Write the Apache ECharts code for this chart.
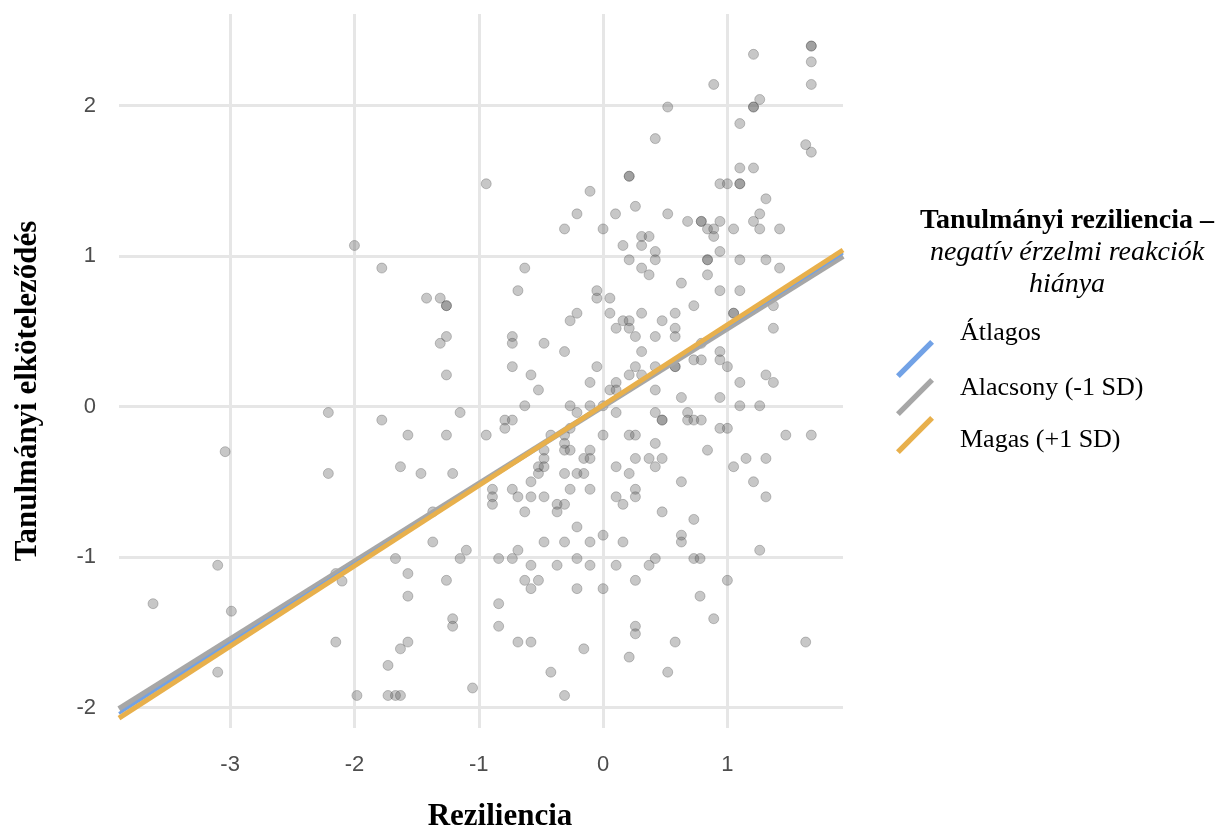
<!DOCTYPE html>
<html>
  <head>
    <meta charset="utf-8" />
    <title>Reziliencia</title>
    <script src="https://cdn.jsdelivr.net/npm/echarts@6/dist/echarts.min.js"></script>
  </head>
  <body style="margin:0;background:#fff">
    <div id="chart" style="width: 1220px; height: 831px"></div>
    <script type="text/javascript">
      // pontok: [reziliencia, elköteleződés]
      var points = [
        [-2.0,1.07],[-0.94,1.48],[-0.105,1.43],[-0.21,1.28],[-0.31,1.18],[0.0,1.18],
        [1.675,2.395],[1.675,2.395],[1.21,2.34],[1.675,2.29],[1.675,2.14],[0.89,2.14],[0.52,1.99],
        [1.26,2.04],[1.21,1.99],[1.21,1.99],[1.10,1.88],[0.42,1.78],[1.63,1.74],[1.675,1.69],
        [1.10,1.585],[1.21,1.585],[0.21,1.53],[0.21,1.53],[0.94,1.48],[1.0,1.48],[1.10,1.48],
        [1.10,1.48],[1.31,1.38],[0.10,1.28],[0.26,1.33],[0.52,1.28],[1.26,1.28],[1.21,1.23],
        [0.68,1.23],[0.79,1.23],[0.79,1.23],[0.94,1.23],[0.84,1.18],[0.89,1.18],[1.05,1.18],
        [1.26,1.18],[1.42,1.18],[0.31,1.13],[0.37,1.13],[0.89,1.13],[0.16,1.07],[0.31,1.07],
        [0.42,1.03],[0.94,1.03],
        [0.42,0.975],[0.21,0.975],[0.84,0.975],[0.84,0.975],[1.10,0.975],[1.31,0.975],[1.42,0.92],
        [0.31,0.92],[0.37,0.875],[0.84,0.875],[0.63,0.82],[0.055,0.72],[0.94,0.77],[1.10,0.77],
        [0.055,0.62],[0.31,0.62],[0.58,0.62],[0.73,0.67],[1.05,0.62],[1.05,0.62],[1.37,0.67],
        [0.16,0.57],[0.21,0.57],[0.475,0.57],[0.105,0.52],[0.21,0.52],[0.58,0.52],[1.37,0.52],
        [0.26,0.465],[0.42,0.465],[0.58,0.465],[0.31,0.365],[0.79,0.42],[0.73,0.31],[0.79,0.31],
        [0.94,0.365],[0.94,0.31],[0.26,0.265],[0.42,0.265],[0.58,0.265],[0.58,0.265],[1.0,0.265],
        [0.21,0.21],[0.31,0.21],[1.31,0.21],[0.105,0.16],[1.10,0.16],[1.37,0.16],[0.055,0.11],
        [0.105,0.11],[0.42,0.11],[0.63,0.06],[0.94,0.06],[1.10,0.005],[1.26,0.005],[0.105,-0.04],
        [0.42,-0.04],[0.68,-0.04],[0.475,-0.09],[0.475,-0.09],[0.68,-0.09],[0.73,-0.09],[0.79,-0.09],
        [0.94,-0.145],[1.0,-0.145],[0.0,-0.19],[0.21,-0.19],[0.26,-0.19],[1.47,-0.19],[1.675,-0.19],
        [0.42,-0.245],[0.84,-0.29],[0.26,-0.345],[0.37,-0.345],[0.475,-0.345],[1.15,-0.345],
        [1.31,-0.345],[0.105,-0.40],[0.42,-0.40],[1.05,-0.40],[0.21,-0.445],[0.63,-0.50],
        [1.21,-0.50],[0.26,-0.55],
        [0.105,-0.60],[0.26,-0.60],[0.16,-0.65],[0.475,-0.70],[0.73,-0.75],[0.0,-0.855],
        [0.63,-0.855],[0.63,-0.90],[0.16,-0.90],[0.42,-1.01],[0.73,-1.01],[0.78,-1.01],
        [0.105,-1.055],[0.37,-1.055],[0.26,-1.155],[0.0,-1.21],[1.0,-1.155],[0.78,-1.26],
        [0.89,-1.41],[0.26,-1.46],[0.26,-1.51],[0.58,-1.565],[1.63,-1.565],[0.21,-1.665],
        [0.52,-1.765],[1.31,-0.60],[1.26,-0.955],
        [-1.78,0.92],[-0.63,0.92],[-1.42,0.72],[-1.31,0.72],[-1.26,0.67],[-1.26,0.67],
        [-0.685,0.77],[-0.05,0.77],[-0.05,0.72],[-0.21,0.62],[-0.265,0.57],[-1.26,0.465],
        [-1.31,0.42],[-0.73,0.465],[-0.73,0.42],[-0.475,0.42],[-0.31,0.365],[-0.73,0.265],
        [-0.05,0.265],[-1.26,0.21],[-0.58,0.21],[-0.105,0.16],[-0.52,0.11],[-0.63,0.005],
        [-0.265,0.005],[-0.105,0.005],[0.0,0.005],[-0.21,-0.04],[-1.15,-0.04],[-1.78,-0.09],
        [-0.79,-0.09],[-0.73,-0.09],[-0.79,-0.145],[-0.265,-0.145],[-1.57,-0.19],[-1.26,-0.19],
        [-0.94,-0.19],[-0.42,-0.19],[-0.31,-0.19],[-0.31,-0.245],[-0.475,-0.29],[-0.31,-0.29],
        [-0.265,-0.29],[-0.105,-0.29],[-0.475,-0.345],[-0.155,-0.345],[-0.105,-0.345],
        [-0.52,-0.40],[-0.475,-0.40],[-1.63,-0.40],[-1.465,-0.445],[-1.21,-0.445],[-0.52,-0.445],
        [-0.31,-0.445],[-0.21,-0.445],[-0.155,-0.445],[-0.58,-0.50],[-0.89,-0.55],[-0.73,-0.55],
        [-0.265,-0.55],[-0.105,-0.55],
        [-0.89,-0.60],[-0.89,-0.65],[-0.685,-0.60],[-0.58,-0.60],[-0.475,-0.60],[-0.37,-0.65],
        [-0.31,-0.65],[-0.63,-0.70],[-0.37,-0.70],[-0.21,-0.80],[-1.37,-0.70],[-1.37,-0.90],
        [-0.475,-0.90],[-0.31,-0.90],[-0.105,-0.90],[-1.10,-0.955],[-1.15,-1.01],[-1.67,-1.01],
        [-0.84,-1.01],[-0.73,-1.01],[-0.685,-0.955],[-0.21,-1.01],[-0.58,-1.055],[-0.37,-1.055],
        [-0.105,-1.055],[-1.57,-1.11],[-1.26,-1.155],[-0.63,-1.155],[-0.52,-1.155],[-0.58,-1.21],
        [-0.21,-1.21],[-1.57,-1.26],[-0.84,-1.31],[-1.21,-1.41],[-1.21,-1.46],[-0.84,-1.46],
        [-1.57,-1.565],[-0.685,-1.565],[-0.58,-1.565],[-0.155,-1.61],[-1.63,-1.61],[-1.73,-1.72],
        [-0.42,-1.765],[-1.73,-1.92],[-1.67,-1.92],[-1.63,-1.92],[-1.98,-1.92],[-1.05,-1.87],
        [-0.31,-1.92],
        [-3.10,-1.055],[-3.62,-1.31],[-2.99,-1.36],[-3.10,-1.765],[-2.15,-1.11],[-2.10,-1.16],
        [-2.15,-1.565],[-2.21,-0.04],[-3.04,-0.30],[-2.21,-0.445]
      ];

      // regressziós egyenesek végpontjai
      var lineX = [-3.894, 1.93];
      var avgY = [-2.04, 1.02];
      var lowY = [-2.01, 1.0];
      var highY = [-2.07, 1.04];

      var seriesNames = ["Átlagos", "Alacsony (-1 SD)", "Magas (+1 SD)"];
      var seriesColors = ["#72a2e6", "#a7a7a7", "#e8b04c"];
      var legendTitle = ["Tanulmányi reziliencia –", "negatív érzelmi reakciók", "hiánya"];

      function pairs(ys) {
        return lineX.map(function (x, i) { return [x, ys[i]]; });
      }

      var icon = "path://M0,36 L36,0 L40,4 L4,40 Z";
      var tickFont = { color: "#4d4d4d", fontSize: 22, fontFamily: "Liberation Sans" };

      var chart = echarts.init(document.getElementById("chart"));
      var option = {
        animation: false,
        grid: { left: 119, right: 377, top: 14, bottom: 103 },
        xAxis: {
          type: "value", min: -3.894, max: 1.93, minInterval: 1, maxInterval: 1,
          axisLine: { show: false }, axisTick: { show: false },
          axisLabel: Object.assign({ margin: 26, showMinLabel: false, showMaxLabel: false }, tickFont),
          splitLine: { show: true, showMinLine: false, showMaxLine: false, lineStyle: { color: "#e6e6e6", width: 3 } }
        },
        yAxis: {
          type: "value", min: -2.136, max: 2.608, minInterval: 1, maxInterval: 1,
          axisLine: { show: false }, axisTick: { show: false },
          axisLabel: Object.assign({ margin: 23, showMinLabel: false, showMaxLabel: false }, tickFont),
          splitLine: { show: true, showMinLine: false, showMaxLine: false, lineStyle: { color: "#e6e6e6", width: 3 } }
        },
        legend: {
          orient: "vertical", left: 890, top: 335, itemWidth: 40, itemHeight: 38, itemGap: 0,
          selectedMode: false, formatter: function () { return ""; },
          data: seriesNames.map(function (n) { return { name: n, icon: icon }; })
        },
        series: [
          {
            type: "scatter", data: points, symbolSize: 10, silent: true,
            itemStyle: { color: "rgba(80,80,80,0.4)", borderColor: "rgba(60,60,60,0.35)", borderWidth: 1 }
          },
          { name: seriesNames[1], type: "line", data: pairs(lowY), symbol: "none", silent: true,
            lineStyle: { color: seriesColors[1], width: 6 }, itemStyle: { color: seriesColors[1] } },
          { name: seriesNames[0], type: "line", data: pairs(avgY), symbol: "none", silent: true,
            lineStyle: { color: seriesColors[0], width: 3 }, itemStyle: { color: seriesColors[0] } },
          { name: seriesNames[2], type: "line", data: pairs(highY), symbol: "none", silent: true,
            lineStyle: { color: seriesColors[2], width: 5 }, itemStyle: { color: seriesColors[2] } }
        ]
      };

      // címek és jelmagyarázat szövegei
      var serif = '"Liberation Serif", "DejaVu Serif", serif';
      var g = [];
      g.push({ type: "text", x: 500, y: 817, style: { text: "Reziliencia", font: "bold 31px " + serif, fill: "#000", align: "center", verticalAlign: "middle" } });
      g.push({ type: "text", x: 28, y: 391, rotation: Math.PI / 2, style: { text: "Tanulmányi elköteleződés", font: "bold 31px " + serif, fill: "#000", align: "center", verticalAlign: "middle" } });
      g.push({ type: "text", x: 1067, y: 221, style: { text: legendTitle[0], font: "bold 28px " + serif, fill: "#000", align: "center", verticalAlign: "middle" } });
      g.push({ type: "text", x: 1067, y: 253, style: { text: legendTitle[1], font: "italic 28px " + serif, fill: "#000", align: "center", verticalAlign: "middle" } });
      g.push({ type: "text", x: 1067, y: 285, style: { text: legendTitle[2], font: "italic 28px " + serif, fill: "#000", align: "center", verticalAlign: "middle" } });
      var labelY = [333, 388, 440];
      seriesNames.forEach(function (n, i) {
        g.push({ type: "text", x: 960, y: labelY[i], style: { text: n, font: "26px " + serif, fill: "#000", align: "left", verticalAlign: "middle" } });
      });
      option.graphic = g;

      chart.setOption(option);
    </script>
  </body>
</html>
